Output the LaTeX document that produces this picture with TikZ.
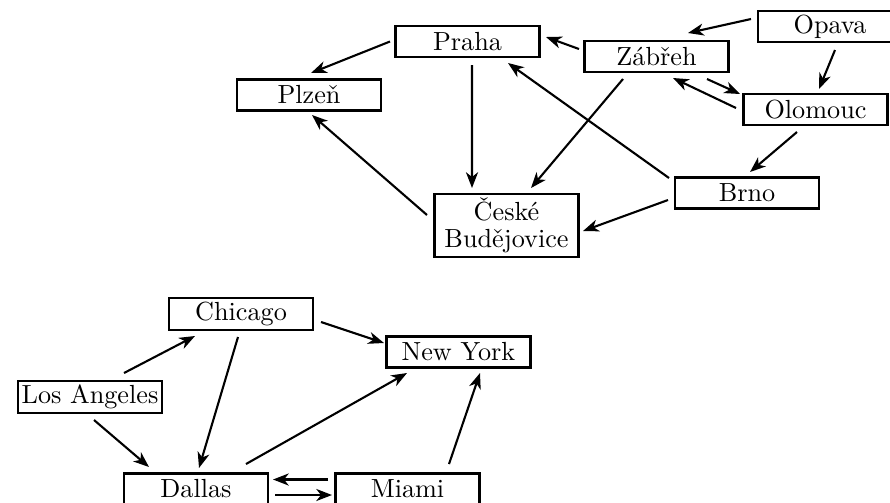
\documentclass[tikz,border=0pt]{standalone}
\usetikzlibrary{arrows.meta,calc}
\begin{document}
\begin{tikzpicture}[x=0.3817pt,y=-0.3817pt,
  city/.style={draw,line width=0.95pt,text width=53pt,inner xsep=1pt,inner ysep=1.5pt,minimum height=12pt,align=center},
  edge/.style={line width=0.8pt,-{Stealth[length=6pt,width=4.6pt,inset=1.8pt]}}]
\useasboundingbox (0,0) rectangle (890,502);
% upper graph
\node[city] (praha) at (467.5,41.5) {Praha};
\node[city] (zabreh) at (656.5,56.5) {Zábřeh};
\node[city] (opava) at (830,26.5) {Opava};
\node[city] (plzen) at (309,95) {Plzeň};
\node[city] (olomouc) at (815.5,109.5) {Olomouc};
\node[city] (brno) at (747,193) {Brno};
\node[city] (cb) at (506.5,225.5) {České\\[-1.8pt]Budějovice};
\draw[edge] ($(opava)+(-79,-7.5)$) -- ($(zabreh)+(31.5,-23.5)$);
\draw[edge] ($(zabreh)+(-77.5,-7.5)$) -- ($(praha)+(78.5,-4.5)$);
\draw[edge] ($(opava)+(5,23.5)$) -- ($(olomouc)+(3.5,-20.5)$);
\draw[edge] ($(zabreh)+(50.5,22.5)$) -- ($(olomouc)+(-75.5,-15.5)$);
\draw[edge] ($(olomouc)+(-79.5,-1.5)$) -- ($(zabreh)+(16.5,21.5)$);
\draw[edge] ($(brno)+(-78,-15)$) -- ($(praha)+(40.5,21.5)$);
\draw[edge] ($(zabreh)+(-33.5,22.5)$) -- ($(cb)+(24.5,-37.5)$);
\draw[edge] ($(praha)+(-77.5,0)$) -- ($(plzen)+(2,-22)$);
\draw[edge] ($(praha)+(4.5,23.5)$) -- ($(cb)+(-34.5,-37.5)$);
\draw[edge] ($(cb)+(-79.5,-10.5)$) -- ($(plzen)+(3,20)$);
\draw[edge] ($(brno)+(-79,7)$) -- ($(cb)+(76.5,5.5)$);
\draw[edge] ($(olomouc)+(-18.5,22.5)$) -- ($(brno)+(3,-21)$);
% lower graph
\node[city] (chicago) at (241,314) {Chicago};
\node[city] (newyork) at (458.5,352) {New York};
\node[city] (la) at (90,397) {Los Angeles};
\node[city] (dallas) at (196,489) {Dallas};
\node[city] (miami) at (407.5,489) {Miami};
\draw[edge] ($(la)+(34,-24)$) -- ($(chicago)+(-46,22)$);
\draw[edge] ($(chicago)+(-3,23)$) -- ($(dallas)+(3,-21)$);
\draw[edge] ($(la)+(4,23)$) -- ($(dallas)+(-47,-22)$);
\draw[edge] ($(dallas)+(50,-25)$) -- ($(newyork)+(-51.5,21)$);
\draw[edge] ($(chicago)+(80,8)$) -- ($(newyork)+(-74.5,-9)$);
\draw[edge] ($(miami)+(41.5,-25)$) -- ($(newyork)+(21.5,21)$);
\draw[edge] ($(miami)+(-79.5,-9.5)$) -- ($(dallas)+(77,-9.5)$);
\draw[edge] ($(dallas)+(79,6)$) -- ($(miami)+(-75.5,6)$);
\end{tikzpicture}
\end{document}
